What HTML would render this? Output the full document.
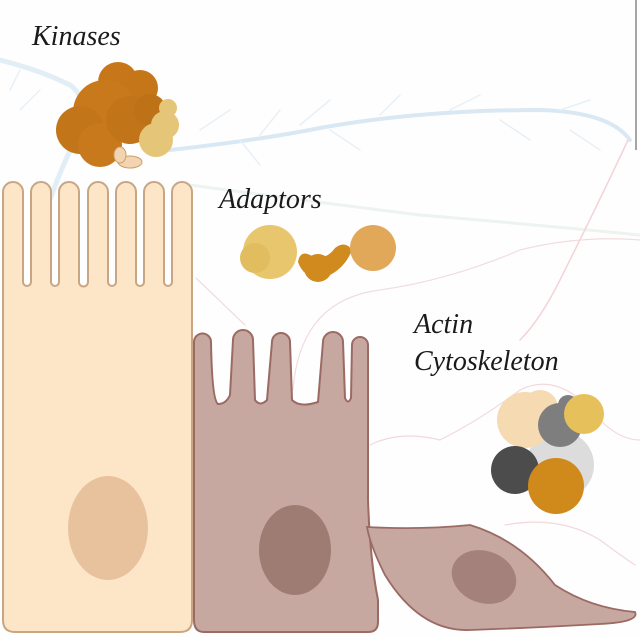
<!DOCTYPE html>
<html><head><meta charset="utf-8"><style>
html,body{margin:0;padding:0;background:#fff;}
svg{display:block}
text{font-family:"Liberation Serif",serif;font-style:italic;fill:#1a1a1a;font-size:28px}
</style></head><body>
<svg width="640" height="637" viewBox="0 0 640 637" xmlns="http://www.w3.org/2000/svg">
<rect width="640" height="637" fill="#fefefe"/>
<line x1="636" y1="0" x2="636" y2="150" stroke="#888" stroke-width="1.5"/>
<g fill="none" stroke-linecap="round">
<path d="M0,60 Q40,70 70,85 Q90,100 80,130 Q60,170 50,200" stroke="#e2eef6" stroke-width="5"/>
<path d="M170,150 Q260,140 320,128 Q420,110 540,110 Q610,112 630,140" stroke="#d9e8f3" stroke-width="4"/>
<path d="M200,130 L230,110 M260,135 L280,110 M300,125 L330,100 M380,115 L400,95 M450,110 L480,95 M500,120 L530,140 M560,110 L590,100 M570,130 L600,150 M240,140 L260,165 M330,130 L360,150 M20,70 L10,90 M40,90 L20,110" stroke="#e8f0f6" stroke-width="1.5"/>
<path d="M190,185 Q300,200 420,215 Q540,225 640,235" stroke="#edf3ee" stroke-width="3"/>
<path d="M628,140 Q600,200 560,280 Q540,320 520,340" stroke="#f3d4d7" stroke-width="1.5"/>
<path d="M196,278 L245,325" stroke="#f0d8db" stroke-width="1.2"/>
<path d="M293,390 Q300,300 380,290 Q450,280 520,250 Q580,235 640,240" stroke="#f3dcde" stroke-width="1.2"/>
<path d="M370,445 Q400,430 440,440 Q480,420 520,390 Q560,370 600,420 Q620,440 640,440" stroke="#f3d8da" stroke-width="1.2"/>
<path d="M505,525 Q560,515 600,540 Q620,555 635,565" stroke="#f3d8da" stroke-width="1.2"/>
</g>
<path d="M3,620 V192 A10,10 0 0 1 23,192 V282 A4,4 0 0 0 31,282 V192 A10,10 0 0 1 51,192 V282 A4,4 0 0 0 59,282 V192 A10,10 0 0 1 79,192 V282 A4.5,4.5 0 0 0 88,282 V192 A10,10 0 0 1 108,192 V282 A4,4 0 0 0 116,282 V192 A10,10 0 0 1 136,192 V282 A4,4 0 0 0 144,282 V192 A10,10 0 0 1 164,192 V282 A4,4 0 0 0 172,282 V192 A10,10 0 0 1 192,192 V620 Q192,632 180,632 H15 Q3,632 3,620 Z" fill="#fde6c8" stroke="#c9a683" stroke-width="2"/>
<ellipse cx="108" cy="528" rx="40" ry="52" fill="#e7c29d"/>
<path d="M194,620 V342 A8.5,8.5 0 0 1 211,342 Q212,400 218,404 Q226,404 230,395 L233,340 A10,10 0 0 1 253,340 L255,400 Q260,407 267,400 L272,342 A9,9 0 0 1 290,342 L292,400 Q300,408 318,402 L323,342 A10,10 0 0 1 343,342 L345,398 Q348,405 351,398 L352,345 A8,8 0 0 1 368,345 V500 Q370,560 378,600 V622 Q378,632 368,632 H204 Q194,632 194,620 Z" fill="#c6a8a0" stroke="#9b6a64" stroke-width="2"/>
<ellipse cx="295" cy="550" rx="36" ry="45" fill="#9e7b73"/>
<path d="M367,527 Q420,530 470,525 Q520,540 555,585 Q590,608 635,612 Q640,622 600,624 Q530,628 470,630 Q420,632 385,575 Q370,545 367,527 Z" fill="#c6a8a0" stroke="#9b6a64" stroke-width="1.8"/>
<ellipse cx="484" cy="577" rx="33" ry="26" transform="rotate(20 484 577)" fill="#a5817b"/>
<g>
<circle cx="118" cy="82" r="20" fill="#c7771a"/>
<circle cx="140" cy="88" r="18" fill="#c47618"/>
<circle cx="105" cy="112" r="32" fill="#c7791c"/>
<circle cx="80" cy="130" r="24" fill="#c37519"/>
<circle cx="100" cy="145" r="22" fill="#c7791c"/>
<circle cx="130" cy="120" r="24" fill="#c27418"/>
<circle cx="150" cy="110" r="16" fill="#be7217"/>
<circle cx="168" cy="108" r="9" fill="#e5c678"/>
<circle cx="165" cy="125" r="14" fill="#e5c678"/>
<circle cx="156" cy="140" r="17" fill="#e5c678"/>
<ellipse cx="130" cy="162" rx="12" ry="6" fill="#f2d5b0" stroke="#c9a06a"/>
<ellipse cx="120" cy="155" rx="6" ry="8" fill="#f2d5b0" stroke="#c9a06a"/>
</g>
<g>
<circle cx="270" cy="252" r="27" fill="#e7c66e"/>
<circle cx="255" cy="258" r="15" fill="#e2bd60"/>
<path d="M298,262 Q305,282 328,276 Q345,268 352,250 Q345,240 335,248 Q325,262 310,255 Q300,250 298,262 Z" fill="#d08a1e"/>
<circle cx="318" cy="268" r="14" fill="#d08a1e"/>
<circle cx="373" cy="248" r="23" fill="#e1a85a"/>
</g>
<g>
<circle cx="560" cy="465" r="34" fill="#dcdcdc"/>
<circle cx="525" cy="420" r="28" fill="#f6dab1"/>
<circle cx="540" cy="408" r="18" fill="#f6dab1"/>
<circle cx="560" cy="425" r="22" fill="#7e7e7e"/>
<circle cx="568" cy="405" r="10" fill="#7e7e7e"/>
<circle cx="584" cy="414" r="20" fill="#e6c05a"/>
<circle cx="515" cy="470" r="24" fill="#4c4c4c"/>
<circle cx="556" cy="486" r="28" fill="#d08a1c"/>
</g>
<text x="32" y="45">Kinases</text>
<text x="219" y="208">Adaptors</text>
<text x="414" y="333">Actin</text>
<text x="414" y="370">Cytoskeleton</text>
</svg>
</body></html>
